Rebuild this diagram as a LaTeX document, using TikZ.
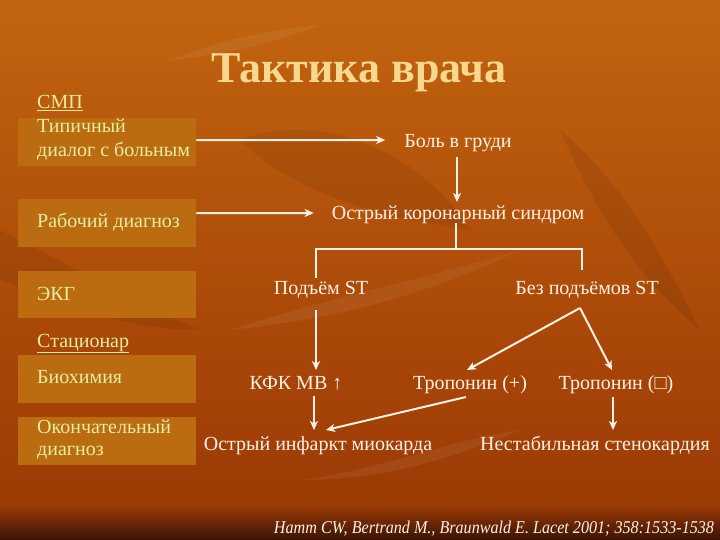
\documentclass[tikz,border=0pt]{standalone}
\usepackage{fontspec}
\setmainfont{Liberation Serif}
\usetikzlibrary{arrows.meta,calc}
\definecolor{lt}{RGB}{228,238,160}
\definecolor{rt}{RGB}{255,242,228}
\definecolor{ttl}{RGB}{248,216,140}
\definecolor{boxc}{RGB}{188,108,16}
\definecolor{bgtop}{RGB}{194,101,15}
\definecolor{bgmid}{RGB}{176,78,10}
\definecolor{bgbot}{RGB}{156,58,6}
\definecolor{bgdark}{RGB}{58,18,4}
\tikzset{
  lbox/.style={fill=boxc, draw=none, minimum width=178pt, minimum height=48pt, anchor=north west, inner sep=0pt},
  ltext/.style={text=lt, font=\fontsize{20}{23}\selectfont, anchor=base west, inner sep=0pt},
  rtxt/.style={text=rt, font=\fontsize{20}{24}\selectfont, anchor=base, inner sep=0pt},
  arr/.style={draw=rt, line width=2pt, -{Stealth[length=9pt,width=8pt,inset=2.5pt]}},
  ln/.style={draw=rt, line width=2pt},
  leaf/.style={fill=white, opacity=0.06, draw=none},
  dleaf/.style={fill=black, opacity=0.07, draw=none}
}
\begin{document}
\begin{tikzpicture}[x=1pt,y=-1pt]
\useasboundingbox (0,0) rectangle (720,540);
% background
\shade[top color=bgtop, bottom color=bgbot, middle color=bgmid] (0,0) rectangle (720,506);
\shade[top color=bgbot, bottom color=bgdark] (0,505) rectangle (720,540);
% faint texture
\path[dleaf] (240,140) .. controls (320,110) and (420,150) .. (470,230) .. controls (400,220) and (300,200) .. (240,140) -- cycle;
\path[dleaf] (0,230) .. controls (60,260) and (130,300) .. (200,330) .. controls (120,330) and (50,300) .. (0,280) -- cycle;
\path[leaf] (170,60) .. controls (220,40) and (270,30) .. (320,25) .. controls (270,45) and (220,55) .. (170,60) -- cycle;
\path[leaf] (230,330) .. controls (320,300) and (420,280) .. (520,250) .. controls (430,295) and (330,320) .. (230,330) -- cycle;
\path[dleaf] (560,130) .. controls (620,180) and (660,250) .. (700,330) .. controls (640,280) and (600,220) .. (560,130) -- cycle;
\path[leaf] (300,480) .. controls (380,470) and (450,440) .. (520,430) .. controls (450,460) and (380,480) .. (300,480) -- cycle;
% title
\node[text=ttl, font=\fontsize{44}{50}\selectfont\bfseries, anchor=base, inner sep=0pt] (title) at (359,83) {Тактика врача};
% left boxes
\node[lbox] (b1) at (18,118) {};
\node[lbox] (b2) at (18,199) {};
\node[lbox, minimum height=47pt] (b3) at (18,271) {};
\node[lbox] (b4) at (18,355) {};
\node[lbox] (b5) at (18,417) {};
% left texts
\node[ltext] (smp) at (37,109) {\underline{СМП}};
\node[ltext] (t1a) at (37,133) {Типичный};
\node[ltext] (t1b) at (37,157) {диалог с больным};
\node[ltext] (t2) at (37,228) {Рабочий диагноз};
\node[ltext] (t3) at (37,300) {ЭКГ};
\node[ltext] (stac) at (37,347) {\underline{Стационар}};
\node[ltext] (t4) at (37,383) {Биохимия};
\node[ltext] (t5a) at (37,433) {Окончательный};
\node[ltext] (t5b) at (37,455) {диагноз};
% right texts
\node[rtxt] (bol) at (458,148) {Боль в груди};
\node[rtxt] (oks) at (458,220) {Острый коронарный синдром};
\node[rtxt] (pst) at (321,294) {Подъём ST};
\node[rtxt] (bst) at (587,294) {Без подъёмов ST};
\node[rtxt] (kfk) at (296,389) {КФК МВ ↑};
\node[rtxt] (tp) at (470,389) {Тропонин (+)};
\node[rtxt] (tm) at (616,389) {Тропонин (□)};
\node[rtxt] (oim) at (318,450) {Острый инфаркт миокарда};
\node[rtxt] (ns) at (595,450) {Нестабильная стенокардия};
% citation
\node[text=rt, font=\fontsize{18}{20}\selectfont\itshape, anchor=base, inner sep=0pt] (cit) at (494,533) {\resizebox{440pt}{\height}{Hamm CW, Bertrand M., Braunwald E. Lacet 2001; 358:1533-1538}};
% connectors
\draw[arr] ($(b1.east)+(0,-2)$) -- ($(bol.base west)+(-19,-8)$);
\draw[arr] ($(bol.base)+(-1,9)$) -- ($(oks.base)+(-1,-18)$);
\draw[arr] ($(b2.east)+(0,-10)$) -- ($(oks.base west)+(-18,-7)$);
\draw[ln] ($(oks.base)+(-2,3)$) -- ($(oks.base)+(-2,29)$);
\draw[ln] ($(pst.base)+(-5,-16)$) |- ($(bst.base)+(-5,-45)$) -- ($(bst.base)+(-5,-24)$);
\draw[arr] ($(pst.base)+(-5,16)$) -- ($(kfk.base)+(20,-19)$);
\draw[arr] ($(bst.base)+(-7,14)$) -- ($(tp.base)+(-3,-19)$);
\draw[arr] ($(bst.base)+(-7,14)$) -- ($(tm.base)+(-4,-19)$);
\draw[arr] ($(kfk.base)+(18,7)$) -- ($(oim.base)+(-4,-20)$);
\draw[arr] ($(tp.base)+(-4,8)$) -- ($(oim.base)+(8,-20)$);
\draw[arr] ($(tm.base)+(-3,8)$) -- ($(ns.base)+(18,-20)$);
\end{tikzpicture}
\end{document}
